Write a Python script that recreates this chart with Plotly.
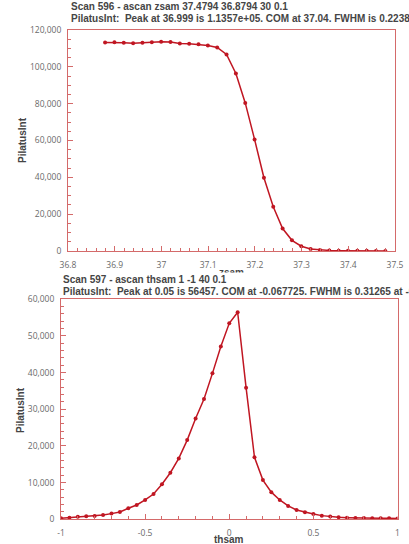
import plotly.graph_objects as go

W, H = 409, 544

# ---- data: scan 596 (zsam) ----
zsam = [36.8794, 36.8994, 36.9194, 36.9394, 36.9594, 36.9794, 36.9994, 37.0194,
        37.0394, 37.0594, 37.0794, 37.0994, 37.1194, 37.1394, 37.1594, 37.1794,
        37.1994, 37.2194, 37.2394, 37.2594, 37.2794, 37.2994, 37.3194, 37.3394,
        37.3594, 37.3794, 37.3994, 37.4194, 37.4394, 37.4594, 37.4794]
pilatus_596 = [113200, 113300, 113100, 112800, 113100, 113400, 113570, 113500,
               112700, 112600, 112300, 111600, 110500, 106700, 96400, 80400,
               60600, 39800, 24000, 12200, 5800, 2600, 1100, 500,
               300, 200, 150, 100, 80, 60, 50]

# ---- data: scan 597 (thsam) ----
thsam = [-1.0, -0.95, -0.9, -0.85, -0.8, -0.75, -0.7, -0.65, -0.6, -0.55,
         -0.5, -0.45, -0.4, -0.35, -0.3, -0.25, -0.2, -0.15, -0.1, -0.05,
         0.0, 0.05, 0.1, 0.15, 0.2, 0.25, 0.3, 0.35, 0.4, 0.45,
         0.5, 0.55, 0.6, 0.65, 0.7, 0.75, 0.8, 0.85, 0.9, 0.95, 1.0]
pilatus_597 = [270, 450, 700, 820, 910, 1180, 1550, 2000, 3000, 3900,
               5270, 6900, 9550, 12700, 16600, 21600, 27500, 32800, 39800, 47100,
               53450, 56457, 35900, 16900, 10700, 7400, 5270, 3640, 2550, 1910,
               1450, 1000, 730, 545, 455, 360, 360, 270, 270, 270, 200]

bottom_xticks = [-1, -0.5, 0, 0.5, 1]
bottom_xticktext = ["-1", "-0.5", "0", "0.5", "1"]

title1_a = "Scan 596 - ascan zsam 37.4794 36.8794 30 0.1"
title1_b = "PilatusInt:  Peak at 36.999 is 1.1357e+05. COM at 37.04. FWHM is 0.2238 at 37.21"
title2_a = "Scan 597 - ascan thsam 1 -1 40 0.1"
title2_b = "PilatusInt:  Peak at 0.05 is 56457. COM at -0.067725. FWHM is 0.31265 at -0.04"

LINE = "#c01622"
FRAME = "#d46a6a"
TICKFONT = dict(family="Open Sans", size=8.5, color="#6a6a6a")
TITLEFONT = dict(family="Liberation Sans", size=10, color="#454545")


def px(x):
    return x / W


def py(y):
    return 1 - y / H


fig = go.Figure()
fig.add_trace(go.Scatter(x=zsam, y=pilatus_596, mode="lines+markers",
                         line=dict(color=LINE, width=1.5),
                         marker=dict(color=LINE, size=4),
                         xaxis="x", yaxis="y", showlegend=False))
fig.add_trace(go.Scatter(x=thsam, y=pilatus_597, mode="lines+markers",
                         line=dict(color=LINE, width=1.5),
                         marker=dict(color=LINE, size=4),
                         xaxis="x2", yaxis="y2", showlegend=False))

common = dict(showgrid=False, zeroline=False, showline=True, linecolor=FRAME,
              linewidth=1, mirror=True, ticks="inside", tickcolor=FRAME,
              ticklen=5, tickfont=TICKFONT, fixedrange=True, automargin=False)

fig.update_layout(
    template="none",
    width=W, height=H,
    margin=dict(l=0, r=0, t=0, b=0, pad=0),
    paper_bgcolor="white", plot_bgcolor="white",
    xaxis=dict(domain=[px(68), px(395)], range=[36.8, 37.5], dtick=0.1, tick0=36.8,
               minor=dict(ticks="inside", ticklen=3, dtick=0.02, tickcolor=FRAME),
               ticklabelstandoff=6, anchor="y", **common),
    yaxis=dict(domain=[py(251), py(30)], range=[0, 120000], dtick=20000, tickformat=",",
               minor=dict(ticks="inside", ticklen=3, dtick=5000, tickcolor=FRAME),
               ticklabelstandoff=4, anchor="x", **common),
    xaxis2=dict(domain=[px(61), px(397.5)], range=[-1, 1], tickmode="array",
                tickvals=bottom_xticks, ticktext=bottom_xticktext,
                minor=dict(ticks="inside", ticklen=3, dtick=0.1, tick0=-1, tickcolor=FRAME),
                ticklabelstandoff=5, anchor="y2", **common),
    yaxis2=dict(domain=[py(519.3), py(299.3)], range=[0, 60000], dtick=10000, tickformat=",",
                minor=dict(ticks="inside", ticklen=3, dtick=2000, tickcolor=FRAME),
                ticklabelstandoff=4, anchor="x2", **common),
)

C = dict(xref="paper", yref="paper", showarrow=False, font=TITLEFONT,
         xanchor="center", yanchor="middle")
L = dict(xref="paper", yref="paper", showarrow=False, font=TITLEFONT,
         xanchor="left", yanchor="middle")

ann = []
# axis titles
ann.append(dict(text="<b>PilatusInt</b>", x=px(22), y=py(140), textangle=-90, **C))
ann.append(dict(text="<b>PilatusInt</b>", x=px(20), y=py(410), textangle=-90, **C))
ann.append(dict(text="<b>zsam</b>", x=px(231), y=py(272), **C))
ann.append(dict(text="<b>thsam</b>", x=px(229), y=py(539), **C))
# titles
ann.append(dict(text="<b>" + title1_a + "</b>", x=px(69), y=py(7), **L))
ann.append(dict(text="<b>" + title1_b + "</b>", x=px(69), y=py(19), **L))
ann.append(dict(text="<b>" + title2_a + "</b>", x=px(61), y=py(279),
                bgcolor="white", width=348, align="left", borderpad=1, **L))
ann.append(dict(text="<b>" + title2_b + "</b>", x=px(61), y=py(291), **L))
fig.update_layout(annotations=ann)

fig.write_html("out.html",
               config={"displayModeBar": False, "staticPlot": True},
               post_script="document.body.style.margin='0';"
                           "document.body.style.overflow='hidden';")
